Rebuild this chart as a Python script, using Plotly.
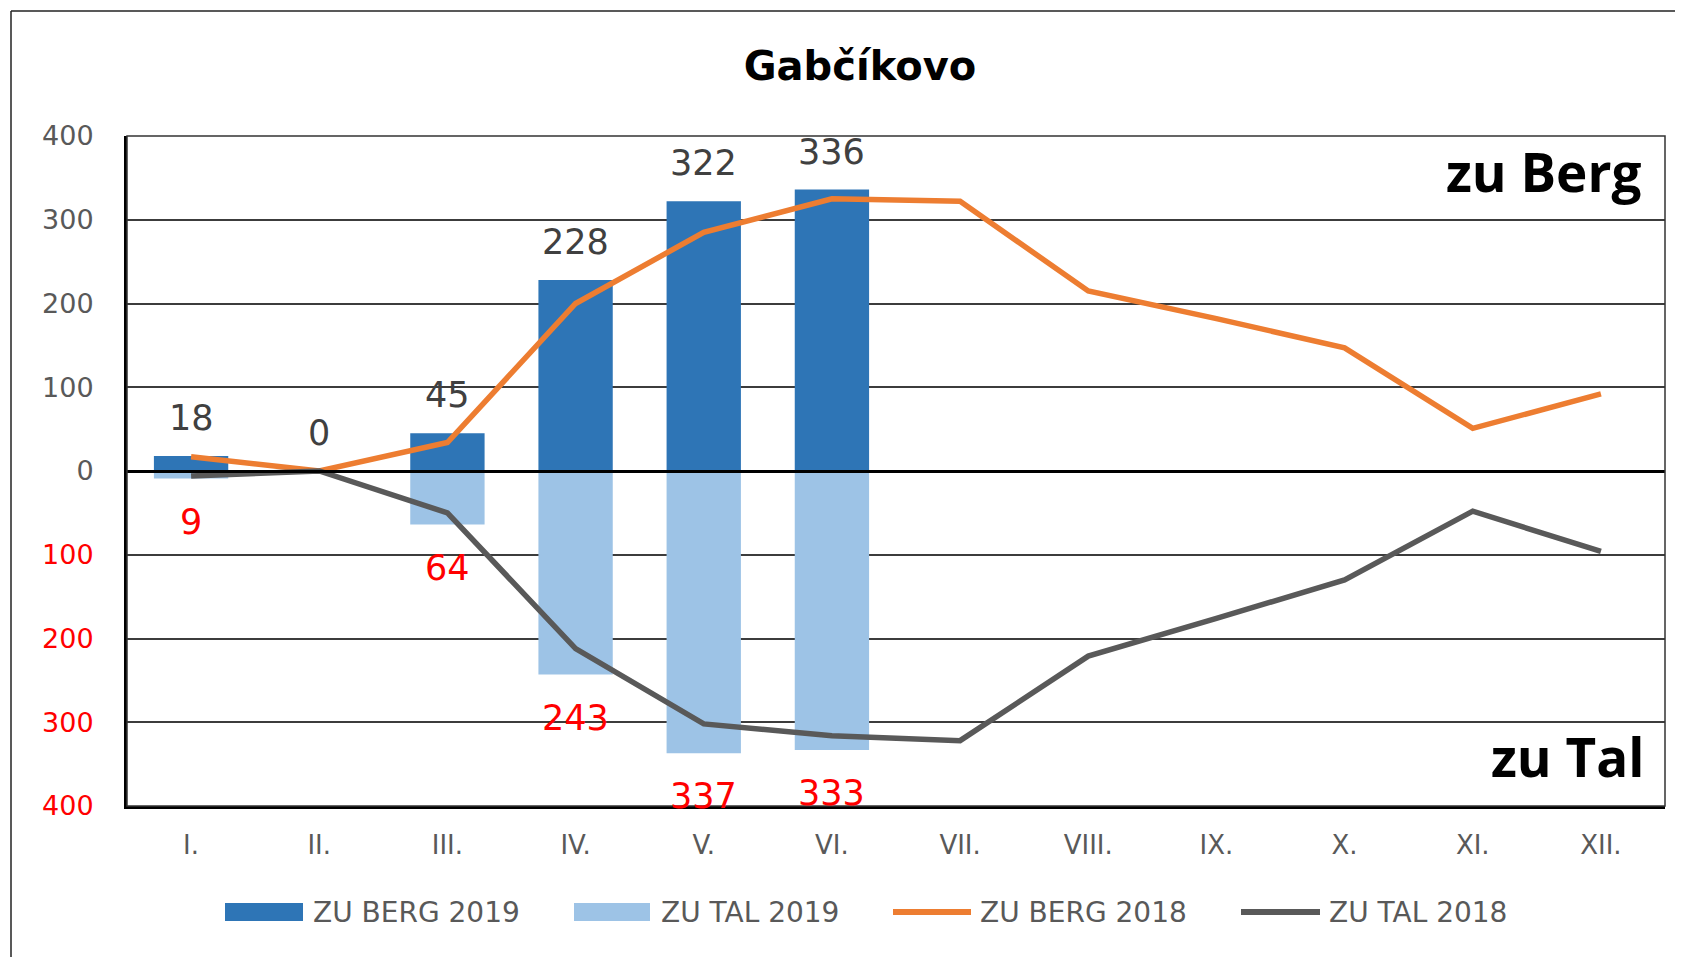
import plotly.graph_objects as go

months = ["I.", "II.", "III.", "IV.", "V.", "VI.", "VII.", "VIII.", "IX.", "X.", "XI.", "XII."]
berg_2019 = [18, 0, 45, 228, 322, 336, None, None, None, None, None, None]
tal_2019 = [9, None, 64, 243, 337, 333, None, None, None, None, None, None]
berg_2018 = [17, 0, 34, 200, 285, 325, 322, 215, 182, 147, 51, 92]
tal_2018 = [6, 0, 50, 212, 302, 316, 322, 221, 176, 130, 48, 96]
ytick_vals = [-400, -300, -200, -100, 0, 100, 200, 300, 400]

OFF = 8  # page body margin
W, H = 1683 - OFF, 957 - OFF
ML, MR, MT = 127 - OFF, 18, 136 - OFF
MB = H - (806 - OFF)
PW, PH = W - ML - MR, H - MT - MB

def px(x):
    return (x - OFF - ML) / PW

def py(y):
    return (H - MB - (y - OFF)) / PH

C_BERG19 = "#2E75B6"
C_TAL19 = "#9DC3E6"
C_BERG18 = "#ED7D31"
C_TAL18 = "#595959"
GREY = "#595959"
FONT = "DejaVu Sans"

tal_2019_neg = [(-v if v is not None else None) for v in tal_2019]
tal_2018_neg = [(-v if v is not None else None) for v in tal_2018]

fig = go.Figure()
fig.add_trace(go.Bar(x=months, y=berg_2019, name="ZU BERG 2019", marker_color=C_BERG19,
                     marker_line_width=0))
fig.add_trace(go.Bar(x=months, y=tal_2019_neg, name="ZU TAL 2019", marker_color=C_TAL19,
                     marker_line_width=0))
fig.add_trace(go.Scatter(x=months, y=berg_2018, name="ZU BERG 2018", mode="lines",
                         line=dict(color=C_BERG18, width=5.5)))
fig.add_trace(go.Scatter(x=months, y=tal_2018_neg, name="ZU TAL 2018", mode="lines",
                         line=dict(color=C_TAL18, width=5.5)))

annotations = []
for m, v in zip(months, berg_2019):
    if v is not None:
        annotations.append(dict(x=m, y=v, xref="x", yref="y", text=str(v), showarrow=False,
                                yshift=38, yanchor="middle",
                                font=dict(family=FONT, size=35, color="#404040")))
for m, v in zip(months, tal_2019):
    if v is not None:
        annotations.append(dict(x=m, y=-v, xref="x", yref="y", text=str(v), showarrow=False,
                                yshift=-43, yanchor="middle",
                                font=dict(family=FONT, size=35, color="#FF0000")))

annotations.append(dict(x=px(1643), y=py(171), xref="paper", yref="paper", text="<b>zu Berg</b>",
                        showarrow=False, xanchor="right", yanchor="middle",
                        font=dict(family="Open Sans", size=53, color="black")))
annotations.append(dict(x=px(1646), y=py(756), xref="paper", yref="paper", text="<b>zu Tal</b>",
                        showarrow=False, xanchor="right", yanchor="middle",
                        font=dict(family="Open Sans", size=53, color="black")))

# custom legend
LEG_Y = 912
legend_items = [
    ("rect", C_BERG19, 225, 303, 311, "ZU BERG 2019"),
    ("rect", C_TAL19, 574, 650, 659, "ZU TAL 2019"),
    ("line", C_BERG18, 893, 971, 978, "ZU BERG 2018"),
    ("line", C_TAL18, 1241, 1320, 1327, "ZU TAL 2018"),
]
shapes = []
for kind, col, x0, x1, tx, label in legend_items:
    if kind == "rect":
        shapes.append(dict(type="rect", xref="paper", yref="paper", x0=px(x0), x1=px(x1),
                           y0=py(LEG_Y - 9), y1=py(LEG_Y + 9), fillcolor=col, line_width=0))
    else:
        shapes.append(dict(type="line", xref="paper", yref="paper", x0=px(x0), x1=px(x1),
                           y0=py(LEG_Y), y1=py(LEG_Y), line=dict(color=col, width=6)))
    annotations.append(dict(x=px(tx), y=py(LEG_Y), xref="paper", yref="paper", text=label,
                            showarrow=False, xanchor="left", yanchor="middle",
                            font=dict(family=FONT, size=28, color=GREY)))

# plot-area frame (top/right thin)
shapes.append(dict(type="rect", xref="paper", yref="paper", x0=0, x1=1, y0=0, y1=1,
                   line=dict(color="#333333", width=1.5), layer="above"))
# outer chart frame
shapes.append(dict(type="line", xref="paper", yref="paper", x0=px(11), x1=px(1683 + 5),
                   y0=py(11), y1=py(11), line=dict(color="#222222", width=1.5)))
shapes.append(dict(type="line", xref="paper", yref="paper", x0=px(11), x1=px(11),
                   y0=py(11), y1=py(957 + 5), line=dict(color="#222222", width=1.5)))

ytick_text = []
for v in ytick_vals:
    if v < 0:
        ytick_text.append(f"<span style='color:#FF0000'>{-v}</span>")
    else:
        ytick_text.append(str(v))

fig.update_layout(
    width=W, height=H, autosize=False,
    margin=dict(l=ML, r=MR, t=MT, b=MB),
    paper_bgcolor="white", plot_bgcolor="white",
    barmode="relative", bargap=0.42,
    showlegend=False,
    title=dict(text="<b>Gabčíkovo</b>", x=(860 - OFF) / W, xref="container", xanchor="center",
               y=1 - (66 - OFF) / H, yref="container", yanchor="middle",
               font=dict(family=FONT, size=40, color="black")),
    annotations=annotations,
    shapes=shapes,
    xaxis=dict(type="category", range=[-0.5, 11.5], showgrid=False, zeroline=False,
               showline=True, linecolor="black", linewidth=2.5, ticks="",
               tickfont=dict(family=FONT, size=26, color=GREY), ticklabelstandoff=14),
    yaxis=dict(range=[-400, 400], tickvals=ytick_vals, ticktext=ytick_text,
               showgrid=True, gridcolor="#3c3c3c", gridwidth=2,
               zeroline=True, zerolinecolor="black", zerolinewidth=2.5,
               zerolinelayer="above traces",
               showline=True, linecolor="black", linewidth=3, ticks="",
               tickfont=dict(family=FONT, size=27, color=GREY), ticklabelstandoff=25),
)

fig.write_html("out.html")
